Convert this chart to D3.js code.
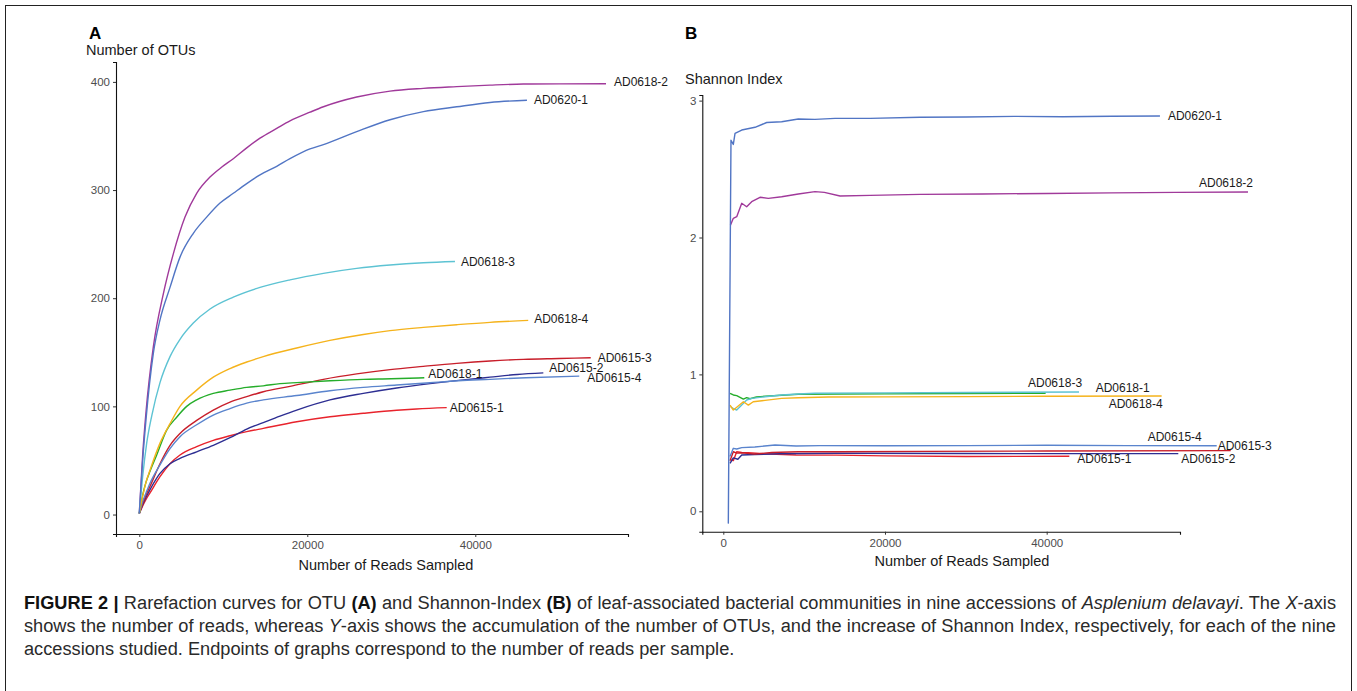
<!DOCTYPE html>
<html><head><meta charset="utf-8">
<script src="https://cdn.jsdelivr.net/npm/d3@7"></script>
<style>body{margin:0;background:#fff}svg{display:block}</style>
</head><body>
<svg id="chart" width="1357" height="691"></svg>
<script>
// ---------- DATA ----------
const seriesNames = ["AD0615-1","AD0615-2","AD0615-3","AD0615-4","AD0618-1","AD0618-2","AD0618-3","AD0618-4","AD0620-1"];
const xTicksA = [0, 20000, 40000];
const yTicksA = [0, 100, 200, 300, 400];
const xTicksB = [0, 20000, 40000];
const yTicksB = [0, 1, 2, 3];

// Panel A: number of OTUs vs reads sampled  [reads, OTUs]
const otu_AD0615_1 = [[0,1],[400,8],[800,14],[1274,20],[2464,35],[3655,47],[4845,55],[6830,62.7],[8810,68.5],[10800,72.8],[12790,76.6],[14760,79.7],[18740,85.8],[22700,90.4],[26670,93.6],[30640,96.4],[33000,97.6],[36600,98.8]];
const otu_AD0615_2 = [[0,1],[400,9],[800,16],[1274,23],[2464,38],[3655,47],[4845,52],[6830,58],[8810,64],[10800,71],[12790,79],[14760,85],[16750,91],[18740,96.6],[22700,106],[26670,112],[30640,117],[34610,121],[38000,124],[41750,127],[45000,129.5],[48100,131]];
const otu_AD0615_3 = [[0,1],[400,10],[800,18],[1274,26],[2464,47],[3655,64],[4845,75],[6830,87],[8810,96.6],[10800,104],[12790,109],[14760,113.5],[17940,118.5],[21920,125],[25880,130],[29850,134],[33810,137],[37790,139.8],[41750,142],[45720,143.5],[50000,144.3],[53740,145]];
const otu_AD0615_4 = [[0,1],[400,12],[800,20],[1274,29],[2464,46],[3655,61],[4845,72],[6830,83],[8810,92],[10800,98],[12790,103],[14760,106],[18740,110],[22700,114.5],[26670,117.6],[30640,119.7],[34610,121.9],[38000,123.7],[41750,125],[46000,126.5],[52380,128]];
const otu_AD0618_1 = [[0,1],[400,18],[800,30],[1274,40],[2070,55],[3260,78],[4450,90],[5640,100],[6830,106],[8810,112],[10800,115],[12790,117.6],[14760,119],[16750,121],[18740,122],[22700,123.7],[26670,125],[30000,125.5],[33930,126.5]];
const otu_AD0618_2 = [[0,1],[400,55],[800,95],[1670,155],[2860,204],[4050,241],[5440,275],[6830,297],[8420,312],[9610,320],[11190,329],[12790,339],[14370,348],[16360,357],[17940,364],[20320,372],[21920,377],[25880,386],[29850,391.5],[33820,394],[37790,395.6],[41750,397],[45720,398],[50000,398.2],[55560,398.3]];
const otu_AD0618_3 = [[0,1],[400,35],[881,66],[1500,92],[2464,122],[3655,146],[4845,162],[6430,177],[8420,190],[11190,201],[14370,210],[17940,217],[21920,223],[25880,227.6],[29850,230.7],[33820,232.8],[37580,234]];
const otu_AD0618_4 = [[0,1],[400,17],[800,30],[1274,41],[2464,66],[3655,84],[4845,100],[6830,115],[8810,127],[10800,135],[12790,141],[14760,146],[18740,154],[22700,161],[26670,166.5],[29850,170],[33810,173],[37790,175.5],[41750,177.7],[46300,179.5]];
const otu_AD0620_1 = [[0,1],[400,50],[800,88],[1670,149],[2464,180],[3655,210],[4845,238],[6430,260],[8020,275],[9610,288],[11190,297],[12790,306],[14370,314],[16360,322],[17940,329],[20320,338],[21920,342],[25880,354],[29850,365],[33820,372.5],[37790,377],[41750,381],[46150,383]];

// Panel B: Shannon index vs reads sampled  [reads, index]
const sha_AD0615_1 = [[950,0.375],[1240,0.37],[1660,0.435],[2280,0.43],[3100,0.428],[5000,0.42],[9000,0.411],[14000,0.41],[20000,0.405],[30000,0.4],[42800,0.402]];
const sha_AD0615_2 = [[830,0.35],[1240,0.39],[1800,0.38],[2280,0.411],[3900,0.415],[7000,0.42],[14000,0.424],[30000,0.422],[45000,0.421],[56280,0.421]];
const sha_AD0615_3 = [[830,0.37],[1240,0.435],[1660,0.425],[2280,0.428],[3900,0.418],[6000,0.43],[9280,0.435],[14000,0.435],[25000,0.438],[40000,0.44],[62760,0.443]];
const sha_AD0615_4 = [[830,0.4],[1240,0.46],[1660,0.455],[2280,0.465],[3900,0.47],[6400,0.484],[9000,0.477],[12000,0.48],[20000,0.479],[30000,0.48],[40000,0.482],[50000,0.48],[61030,0.479]];
const sha_AD0618_1 = [[830,0.862],[1240,0.85],[1660,0.845],[2070,0.833],[2480,0.82],[2890,0.83],[3300,0.822],[4100,0.835],[5200,0.84],[7220,0.848],[9280,0.855],[14000,0.857],[20000,0.858],[30000,0.86],[39870,0.862]];
const sha_AD0618_2 = [[880,2.09],[1240,2.14],[1660,2.152],[2280,2.25],[2890,2.225],[3510,2.262],[4540,2.294],[5570,2.286],[7220,2.298],[9280,2.318],[11340,2.335],[12500,2.33],[14440,2.303],[18150,2.308],[24330,2.315],[32000,2.318],[40000,2.322],[48000,2.326],[56000,2.33],[64900,2.332]];
const sha_AD0618_3 = [[915,0.764],[1240,0.75],[1660,0.74],[2280,0.776],[2890,0.813],[3510,0.825],[5160,0.837],[7220,0.85],[9280,0.857],[11340,0.862],[20000,0.865],[30000,0.868],[44000,0.871]];
const sha_AD0618_4 = [[830,0.776],[1240,0.74],[1660,0.76],[2480,0.8],[3100,0.776],[3700,0.8],[5160,0.81],[7220,0.825],[9280,0.83],[13000,0.835],[20000,0.836],[30000,0.838],[40000,0.84],[54220,0.842]];
const sha_AD0620_1 = [[620,-0.09],[950,2.71],[1240,2.68],[1450,2.76],[2280,2.785],[3920,2.805],[5370,2.84],[7220,2.846],[9280,2.866],[11340,2.863],[13820,2.87],[18150,2.87],[24330,2.878],[30000,2.88],[36000,2.885],[42000,2.882],[48000,2.886],[54010,2.888]];

// ---------- STYLE ----------
const seriesColors = {"AD0615-1":"#e8232c","AD0615-2":"#2d2e92","AD0615-3":"#c81e2a","AD0615-4":"#5a84cd",
  "AD0618-1":"#25ad2a","AD0618-2":"#a0399a","AD0618-3":"#5dc3d3","AD0618-4":"#f5b31c","AD0620-1":"#5175c4"};
// label offsets from each line end (px): [dx, dy]
const labelOffsetA = {"AD0615-1":[3,0],"AD0615-2":[6,-5],"AD0615-3":[7,0],"AD0615-4":[8,1.5],"AD0618-1":[4,-4],
  "AD0618-2":[8,-2],"AD0618-3":[6,0],"AD0618-4":[6,-1.5],"AD0620-1":[7,0]};
const labelOffsetB = {"AD0615-1":[8,3],"AD0615-2":[3,5],"AD0615-3":[-13,-5],"AD0615-4":[-69,-9],"AD0618-1":[50,-5],
  "AD0618-2":[-49,-9],"AD0618-3":[-51,-9],"AD0618-4":[-53,8],"AD0620-1":[8,0]};

const otuData = {"AD0615-1":otu_AD0615_1,"AD0615-2":otu_AD0615_2,"AD0615-3":otu_AD0615_3,"AD0615-4":otu_AD0615_4,
  "AD0618-1":otu_AD0618_1,"AD0618-2":otu_AD0618_2,"AD0618-3":otu_AD0618_3,"AD0618-4":otu_AD0618_4,"AD0620-1":otu_AD0620_1};
const shaData = {"AD0615-1":sha_AD0615_1,"AD0615-2":sha_AD0615_2,"AD0615-3":sha_AD0615_3,"AD0615-4":sha_AD0615_4,
  "AD0618-1":sha_AD0618_1,"AD0618-2":sha_AD0618_2,"AD0618-3":sha_AD0618_3,"AD0618-4":sha_AD0618_4,"AD0620-1":sha_AD0620_1};

const FONT = "'Liberation Sans', Arial, Helvetica, sans-serif";
const svg = d3.select("#chart").style("font-family", FONT);

// frame
svg.append("rect").attr("x",5.5).attr("y",5.5).attr("width",1346).attr("height",700)
  .attr("fill","none").attr("stroke","#222").attr("stroke-width",1);

function panel(cfg){
  const x = d3.scaleLinear().domain(cfg.xDomain).range([cfg.left, cfg.right]);
  const y = d3.scaleLinear().domain(cfg.yDomain).range([cfg.bottom, cfg.top]);
  const g = svg.append("g");
  const xAxis = g.append("g").attr("transform",`translate(0,${cfg.bottom})`)
    .call(d3.axisBottom(x).tickValues(cfg.xTicks).tickSizeOuter(0).tickSize(3).tickPadding(4).tickFormat(d3.format("d")));
  const yAxis = g.append("g").attr("transform",`translate(${cfg.left},0)`)
    .call(d3.axisLeft(y).tickValues(cfg.yTicks).tickSizeOuter(0).tickSize(3).tickPadding(3).tickFormat(d3.format("d")));
  [xAxis,yAxis].forEach(a=>{
    a.select(".domain").attr("stroke","#111").attr("stroke-width",1.1);
    a.selectAll(".tick line").attr("stroke","#333");
    a.selectAll(".tick text").attr("fill","#4d4d4d").style("font-size","11.5px").style("font-family",FONT);
  });
  const line = d3.line().x(d=>x(d[0])).y(d=>y(d[1])).curve(cfg.curve);
  seriesNames.forEach(n=>{
    const pts = cfg.data[n];
    g.append("path").attr("d", line(pts)).attr("fill","none")
      .attr("stroke", seriesColors[n]).attr("stroke-width",1.4).attr("stroke-linejoin","round");
  });
  seriesNames.forEach(n=>{
    const pts = cfg.data[n]; const last = pts[pts.length-1];
    const off = cfg.offsets[n];
    g.append("text").attr("x", x(last[0])+off[0]).attr("y", y(last[1])+off[1])
      .attr("dy","0.35em").attr("fill","#1a1a1a").style("font-size","12px").text(n);
  });
  // axis titles
  g.append("text").attr("x",cfg.ytX).attr("y",cfg.ytY).attr("dy","0.35em").attr("fill","#1a1a1a")
    .style("font-size","14.5px").text(cfg.yTitle);
  g.append("text").attr("x",(cfg.xtX)).attr("y",cfg.xtY).attr("dy","0.35em").attr("text-anchor","middle")
    .attr("fill","#1a1a1a").style("font-size","14.5px").text("Number of Reads Sampled");
  g.append("text").attr("x",cfg.letterX).attr("y",33).attr("dy","0.36em").attr("fill","#000")
    .style("font-size","17px").style("font-weight","bold").text(cfg.letter);
}

panel({xDomain:[-2774,58180], yDomain:[-18,418.4], left:116, right:628, top:62, bottom:534,
  xTicks:xTicksA, yTicks:yTicksA, data:otuData, offsets:labelOffsetA, curve:d3.curveMonotoneX,
  yTitle:"Number of OTUs", ytX:86, ytY:50, xtX:386, xtY:565, letter:"A", letterX:89});
panel({xDomain:[-2598,56490], yDomain:[-0.149,3.041], left:702.3, right:1180, top:95, bottom:531.7,
  xTicks:xTicksB, yTicks:yTicksB, data:shaData, offsets:labelOffsetB, curve:d3.curveLinear,
  yTitle:"Shannon Index", ytX:685, ytY:79, xtX:962, xtY:561, letter:"B", letterX:685});

// ---------- CAPTION ----------
const capLines = [
  [["FIGURE 2 | ","b"],["Rarefaction curves for OTU ",""],["(A)","b"],[" and Shannon-Index ",""],["(B)","b"],
   [" of leaf-associated bacterial communities in nine accessions of ",""],["Asplenium delavayi","i"],[". The ",""],["X","i"],["-axis",""]],
  [["shows the number of reads, whereas ",""],["Y","i"],["-axis shows the accumulation of the number of OTUs, and the increase of Shannon Index, respectively, for each of the nine",""]],
  [["accessions studied. Endpoints of graphs correspond to the number of reads per sample.",""]]
];
const capX = 24, capBase = [609, 632, 655], capTargets = [1312, 1312, 711];
const capTexts = capLines.map((parts,i)=>{
  const t = svg.append("text").attr("x",capX).attr("y",capBase[i]).attr("fill","#2a2a2a").style("font-size","14px");
  parts.forEach(p=>{
    const ts = t.append("tspan").text(p[0]);
    if(p[1]==="b") ts.style("font-weight","bold").attr("fill","#111");
    if(p[1]==="i") ts.style("font-style","italic");
  });
  return t;
});
const w3 = capTexts[2].node().getComputedTextLength();
const fs = 14*capTargets[2]/w3;
capTexts.forEach(t=>t.style("font-size",fs+"px"));
[0,1].forEach(i=>{
  const t = capTexts[i];
  const w = t.node().getComputedTextLength();
  const spaces = (t.text().match(/ /g)||[]).length;
  t.style("word-spacing", ((capTargets[i]-w)/spaces)+"px");
});
</script>
</body></html>
